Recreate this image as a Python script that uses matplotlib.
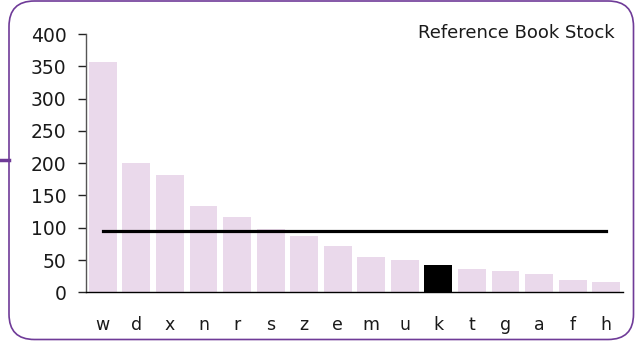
import matplotlib
matplotlib.use("Agg")
import matplotlib.pyplot as plt
from matplotlib.patches import FancyBboxPatch
from matplotlib.lines import Line2D

# stock per shelf code, sorted descending
codes = ["w", "d", "x", "n", "r", "s", "z", "e", "m", "u", "k", "t", "g", "a", "f", "h"]
stock = [357, 200, 182, 134, 117, 98, 87, 72, 55, 50, 42, 36, 33, 28, 19, 16]
highlight = "k"
title = "Reference Book Stock"
yticks = [0, 50, 100, 150, 200, 250, 300, 350, 400]

bar_color = "#ead9eb"
frame_color = "#6f3b98"

plt.rcParams["font.family"] = "DejaVu Sans"

fig = plt.figure(figsize=(6.35, 3.42), dpi=100)
fig.patch.set_facecolor("white")

# rounded frame around the whole chart
frame = FancyBboxPatch((9 / 635, 2.5 / 342), 624.5 / 635, 338.5 / 342,
                       boxstyle="round,pad=0,rounding_size=0.04",
                       transform=fig.transFigure, facecolor="none",
                       edgecolor=frame_color, linewidth=1.2,
                       mutation_aspect=635 / 342)
fig.patches.append(frame)
fig.lines.append(Line2D([0, 9 / 635], [1 - 160 / 342, 1 - 160 / 342],
                        transform=fig.transFigure, color=frame_color, linewidth=2.5))

ax = fig.add_axes([86 / 635, 1 - 292.3 / 342, 537 / 635, 258.3 / 342])

colors = ["black" if c == highlight else bar_color for c in codes]
xs = range(len(codes))
ax.bar(xs, stock, width=0.83, color=colors)

# average across all codes
avg = sum(stock) / len(stock)
ax.plot([0, len(codes) - 1], [avg, avg], color="black", linewidth=2.3)

ax.set_xlim(-0.5, len(codes) - 0.5)
ax.set_ylim(0, 400)
ax.set_yticks(yticks)
ax.set_xticks(list(xs))
ax.set_xticklabels(codes)

ax.spines["top"].set_visible(False)
ax.spines["right"].set_visible(False)
ax.spines["left"].set_color("#555555")
ax.spines["bottom"].set_color("black")
ax.spines["left"].set_linewidth(1.0)
ax.spines["bottom"].set_linewidth(1.0)

ax.tick_params(axis="y", direction="out", length=6, width=1, color="#222222",
               pad=8, labelsize=13.5, labelcolor="#1a1a1a")
ax.tick_params(axis="x", length=0, pad=17, labelsize=12.5, labelcolor="#1a1a1a")

fig.text(615 / 635, 1 - 33 / 342, title, ha="right", va="center",
         fontsize=13, color="#1a1a1a")

fig.savefig("out.png", dpi=100)
